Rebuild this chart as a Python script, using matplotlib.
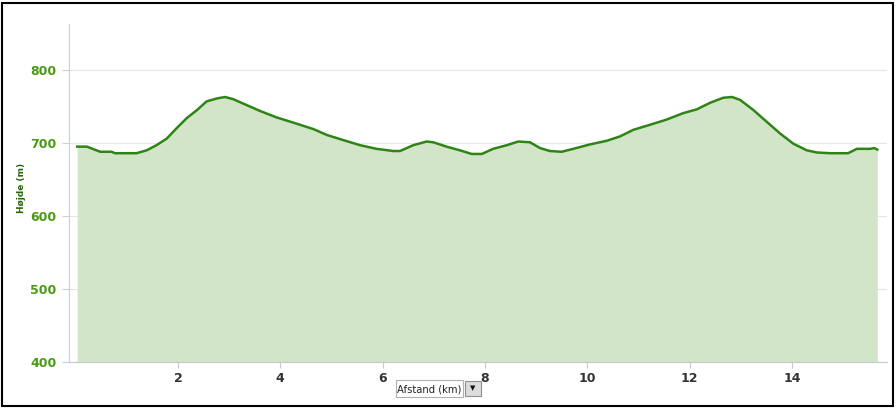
import matplotlib
matplotlib.use("Agg")
import matplotlib.pyplot as plt
from matplotlib.patches import Rectangle

# ── elevation profile ─────────────────────────────────────────────────────
dist_km = [0.03, 0.22, 0.48, 0.70, 0.77, 1.19, 1.39, 1.58, 1.78, 1.97,
           2.17, 2.37, 2.56, 2.76, 2.92, 3.08, 3.34, 3.60, 3.93, 4.25,
           4.65, 4.91, 5.23, 5.56, 5.88, 6.21, 6.34, 6.60, 6.86, 6.99,
           7.25, 7.51, 7.74, 7.94, 8.16, 8.43, 8.65, 8.88, 9.08, 9.27,
           9.50, 9.73, 10.05, 10.38, 10.64, 10.90, 11.23, 11.55, 11.88, 12.14,
           12.40, 12.66, 12.83, 12.99, 13.25, 13.51, 13.77, 14.03, 14.29, 14.49,
           14.75, 15.10, 15.27, 15.53, 15.61, 15.67]
elev_m = [695, 695, 688, 688, 686, 686, 690, 697, 706, 720,
          734, 745, 757, 761, 763, 760, 752, 744, 735, 728,
          719, 711, 704, 697, 692, 689, 689, 697, 702, 701,
          695, 690, 685, 685, 692, 697, 702, 701, 693, 689,
          688, 692, 698, 703, 709, 718, 725, 732, 741, 746,
          755, 762, 763, 759, 745, 729, 713, 699, 690, 687,
          686, 686, 692, 692, 693, 691]

x_ticks = [2, 4, 6, 8, 10, 12, 14]
y_ticks = [400, 500, 600, 700, 800]

LINE = "#2f8416"
FILL = "#d3e5c9"
YTXT = "#4a9a14"

fig = plt.figure(figsize=(8.96, 4.08), dpi=100)
fig.patch.set_facecolor("white")
ax = fig.add_axes([69 / 896, 1 - 362 / 408, 818 / 896, 338 / 408])

ax.fill_between(dist_km, 400, elev_m, color=FILL, lw=0)
ax.plot(dist_km, elev_m, color=LINE, lw=1.8)

ax.set_xlim(-0.13, 15.86)
ax.set_ylim(400, 863)
ax.set_xticks(x_ticks)
ax.set_yticks(y_ticks)
ax.grid(axis="y", color="#e6e6e6", lw=0.8)
ax.set_axisbelow(True)

for s in ("top", "right"):
    ax.spines[s].set_visible(False)
ax.spines["left"].set_color("#c4d2e0")
ax.spines["bottom"].set_color("#c0c8d0")
ax.tick_params(axis="y", colors="#c4d2e0", length=5, labelcolor=YTXT,
               labelsize=9, pad=4)
ax.tick_params(axis="x", colors="#c0c8d0", length=4, labelcolor="#333333",
               labelsize=9, pad=3)
for lab in ax.get_yticklabels() + ax.get_xticklabels():
    lab.set_fontweight("bold")

fig.text(21 / 896, 1 - 188 / 408, "Højde (m)", rotation=90, ha="center",
         va="center", fontsize=6.5, fontweight="bold", color="#2a640e")

# axis selector box under the chart
fig.patches.append(Rectangle((396 / 896, 1 - 397 / 408), 67 / 896, 17 / 408,
                             transform=fig.transFigure, facecolor="white",
                             edgecolor="#b0b0b0", lw=0.8))
fig.text(429.5 / 896, 1 - 389 / 408, "Afstand (km)", ha="center", va="center",
         fontsize=7.2, color="#222222")
fig.patches.append(Rectangle((465 / 896, 1 - 396 / 408), 16 / 896, 15 / 408,
                             transform=fig.transFigure, facecolor="#dcdcdc",
                             edgecolor="#909090", lw=0.8))
fig.text(473 / 896, 1 - 388.5 / 408, "▼", ha="center", va="center",
         fontsize=5, color="#111111")

# outer frame
fig.patches.append(Rectangle((2 / 896, 2 / 408), 891 / 896, 403 / 408,
                             transform=fig.transFigure, facecolor="none",
                             edgecolor="black", lw=1.5))

fig.savefig("out.png", dpi=100)
